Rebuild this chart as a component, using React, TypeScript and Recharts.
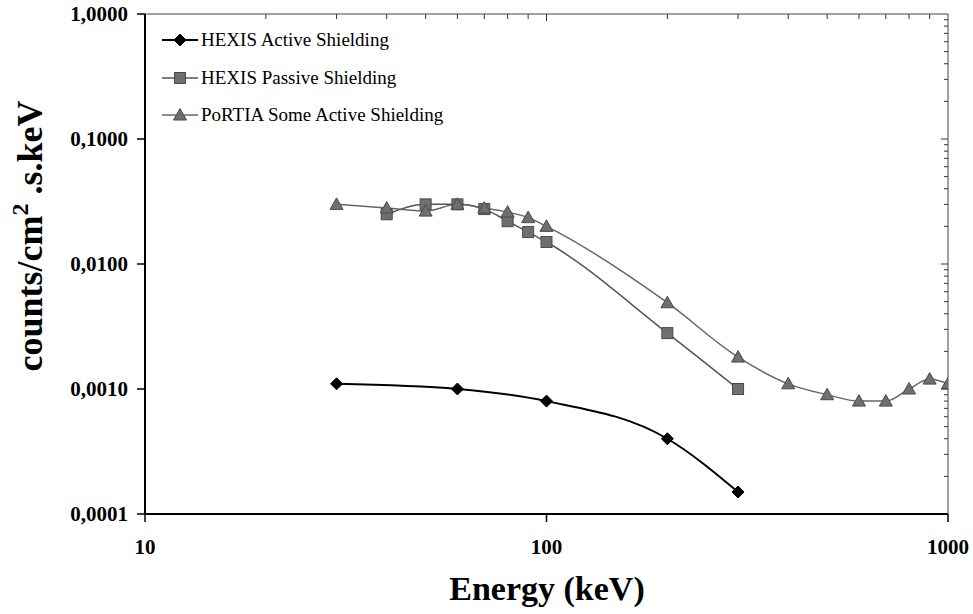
import React from 'react';
import { LineChart, Line, XAxis, YAxis } from 'recharts';

const energyActive = [30, 60, 100, 200, 300];
const countsActive = [0.0011, 0.001, 0.0008, 0.0004, 0.00015];

const energyPassive = [40, 50, 60, 70, 80, 90, 100, 200, 300];
const countsPassive = [0.025, 0.03, 0.03, 0.0275, 0.022, 0.018, 0.015, 0.0028, 0.001];

const energyPortia = [30, 40, 50, 60, 70, 80, 90, 100, 200, 300, 400, 500, 600, 700, 800, 900, 1000];
const countsPortia = [0.03, 0.028, 0.0265, 0.03, 0.028, 0.026, 0.0235, 0.02, 0.0049, 0.0018, 0.0011, 0.0009, 0.0008, 0.0008, 0.001, 0.0012, 0.0011];

const xTicks = [10, 100, 1000];
const yTicks = [0.0001, 0.001, 0.01, 0.1, 1];
const xMinorTicks = [20, 30, 40, 50, 60, 70, 80, 90, 100, 200, 300, 400, 500, 600, 700, 800, 900];
const yMinorTicks = [
  0.0002, 0.0003, 0.0004, 0.0005, 0.0006, 0.0007, 0.0008, 0.0009, 0.001,
  0.002, 0.003, 0.004, 0.005, 0.006, 0.007, 0.008, 0.009, 0.01,
  0.02, 0.03, 0.04, 0.05, 0.06, 0.07, 0.08, 0.09, 0.1,
  0.2, 0.3, 0.4, 0.5, 0.6, 0.7, 0.8, 0.9,
];
const xMajor = [100];
const yMajor = [0.001, 0.01, 0.1];

const seriesNames = ['HEXIS Active Shielding', 'HEXIS Passive Shielding', 'PoRTIA Some Active Shielding'];

const activeData = energyActive.map((x, i) => ({ x, y: countsActive[i] }));
const passiveData = energyPassive.map((x, i) => ({ x, y: countsPassive[i] }));
const portiaData = energyPortia.map((x, i) => ({ x, y: countsPortia[i] }));

const FONT = '"Liberation Serif", "Times New Roman", serif';
const GRAY_FILL = '#6f6f6f';
const GRAY_STROKE = '#4a4a4a';

const Diamond = (p: any) => {
  const { cx, cy, index } = p;
  if (cx == null || cy == null) return <g key={`d${index}`} />;
  const r = 6;
  return (
    <polygon key={`d${index}`} points={`${cx},${cy - r} ${cx + r},${cy} ${cx},${cy + r} ${cx - r},${cy}`} fill="#000" stroke="#000" strokeWidth={1} />
  );
};

const Square = (p: any) => {
  const { cx, cy, index } = p;
  if (cx == null || cy == null) return <g key={`s${index}`} />;
  const h = 5.5;
  return <rect key={`s${index}`} x={cx - h} y={cy - h} width={2 * h} height={2 * h} fill={GRAY_FILL} stroke={GRAY_STROKE} strokeWidth={1} />;
};

const Triangle = (p: any) => {
  const { cx, cy, index } = p;
  if (cx == null || cy == null) return <g key={`t${index}`} />;
  return (
    <polygon key={`t${index}`} points={`${cx},${cy - 6.5} ${cx + 6.5},${cy + 5} ${cx - 6.5},${cy + 5}`} fill={GRAY_FILL} stroke={GRAY_STROKE} strokeWidth={1} />
  );
};

const TopTick = (p: any) => {
  const { x, y, payload } = p;
  const len = xMajor.includes(payload.value) ? 7 : 5;
  return <line x1={x} x2={x} y1={y} y2={y + len} stroke="#333" strokeWidth={1} />;
};

const RightTick = (p: any) => {
  const { x, y, payload } = p;
  const len = yMajor.includes(payload.value) ? 7 : 4;
  return <line x1={x} x2={x - len} y1={y} y2={y} stroke="#333" strokeWidth={1} />;
};

const fmtY = (v: number) => v.toFixed(4).replace('.', ',');

const LegendOverlay = () => {
  const rows = [
    { name: seriesNames[0], color: '#000', w: 2, mark: 'd' },
    { name: seriesNames[1], color: '#555', w: 1.5, mark: 's' },
    { name: seriesNames[2], color: '#666', w: 1.5, mark: 't' },
  ];
  const ys = [40, 78, 115];
  return (
    <svg width={400} height={140} style={{ position: 'absolute', left: 0, top: 0, overflow: 'visible' }}>
      {rows.map((r, i) => {
        const y = ys[i];
        const cx = 180;
        return (
          <g key={r.name}>
            <line x1={162} x2={198} y1={y} y2={y} stroke={r.color} strokeWidth={r.w} />
            {r.mark === 'd' && Diamond({ cx, cy: y, index: 100 + i })}
            {r.mark === 's' && Square({ cx, cy: y, index: 100 + i })}
            {r.mark === 't' && Triangle({ cx, cy: y, index: 100 + i })}
            <text x={201} y={y + 6} fontFamily={FONT} fontSize={19} fill="#000">{r.name}</text>
          </g>
        );
      })}
    </svg>
  );
};

export default function App() {
  return (
    <div style={{ position: 'absolute', left: 0, top: 0, width: 973, height: 614, background: '#fff' }}>
      <LineChart width={973} height={614} margin={{ top: 13, right: 24, left: 0, bottom: 0 }}>
        <XAxis
          xAxisId="bottom"
          dataKey="x"
          type="number"
          scale="log"
          domain={[10, 1000]}
          allowDataOverflow
          ticks={xTicks}
          height={100}
          axisLine={{ stroke: '#000', strokeWidth: 2 }}
          tickLine={{ stroke: '#000', strokeWidth: 1.5 }}
          tickSize={8}
          tickMargin={17}
          tick={{ fontSize: 21, fontWeight: 'bold', fill: '#000', fontFamily: FONT }}
          label={{
            content: () => (
              <text x={547} y={600} textAnchor="middle" fontFamily={FONT} fontWeight="bold" fontSize={34} fill="#000">
                Energy (keV)
              </text>
            ),
          }}
        />
        <XAxis
          xAxisId="top"
          orientation="top"
          dataKey="x"
          type="number"
          scale="log"
          domain={[10, 1000]}
          allowDataOverflow
          ticks={xMinorTicks}
          interval={0}
          height={1}
          axisLine={{ stroke: '#444', strokeWidth: 1 }}
          tickLine={false}
          tickSize={0}
          tickMargin={0}
          tick={TopTick}
        />
        <YAxis
          yAxisId="left"
          type="number"
          scale="log"
          domain={[0.0001, 1]}
          allowDataOverflow
          ticks={yTicks}
          tickFormatter={fmtY}
          width={145}
          axisLine={{ stroke: '#000', strokeWidth: 2 }}
          tickLine={{ stroke: '#000', strokeWidth: 1.5 }}
          tickSize={8}
          tickMargin={9}
          tick={{ fontSize: 21, fontWeight: 'bold', fill: '#000', fontFamily: FONT }}
          label={{
            content: () => (
              <text
                x={42}
                y={236}
                transform="rotate(-90, 42, 236)"
                textAnchor="middle"
                fontFamily={FONT}
                fontWeight="bold"
                fontSize={36}
                fill="#000"
              >
                <tspan>counts/cm</tspan>
                <tspan dy={-14} fontSize={24}>2</tspan>
                <tspan dy={14}>{'\u00a0.s.keV'}</tspan>
              </text>
            ),
          }}
        />
        <YAxis
          yAxisId="right"
          orientation="right"
          type="number"
          scale="log"
          domain={[0.0001, 1]}
          allowDataOverflow
          ticks={yMinorTicks}
          interval={0}
          width={1}
          axisLine={{ stroke: '#444', strokeWidth: 1 }}
          tickLine={false}
          tickSize={0}
          tickMargin={0}
          tick={RightTick}
        />
        <Line
          xAxisId="top"
          yAxisId="right"
          data={portiaData}
          dataKey="y"
          stroke="none"
          dot={false}
          activeDot={false}
          isAnimationActive={false}
          legendType="none"
        />
        <Line
          xAxisId="bottom"
          yAxisId="left"
          data={activeData}
          dataKey="y"
          type="monotone"
          stroke="#000"
          strokeWidth={2}
          dot={Diamond}
          activeDot={false}
          isAnimationActive={false}
          name={seriesNames[0]}
        />
        <Line
          xAxisId="bottom"
          yAxisId="left"
          data={passiveData}
          dataKey="y"
          type="monotone"
          stroke="#555"
          strokeWidth={1.5}
          dot={Square}
          activeDot={false}
          isAnimationActive={false}
          name={seriesNames[1]}
        />
        <Line
          xAxisId="bottom"
          yAxisId="left"
          data={portiaData}
          dataKey="y"
          type="monotone"
          stroke="#666"
          strokeWidth={1.5}
          dot={Triangle}
          activeDot={false}
          isAnimationActive={false}
          name={seriesNames[2]}
        />
      </LineChart>
      <LegendOverlay />
    </div>
  );
}
